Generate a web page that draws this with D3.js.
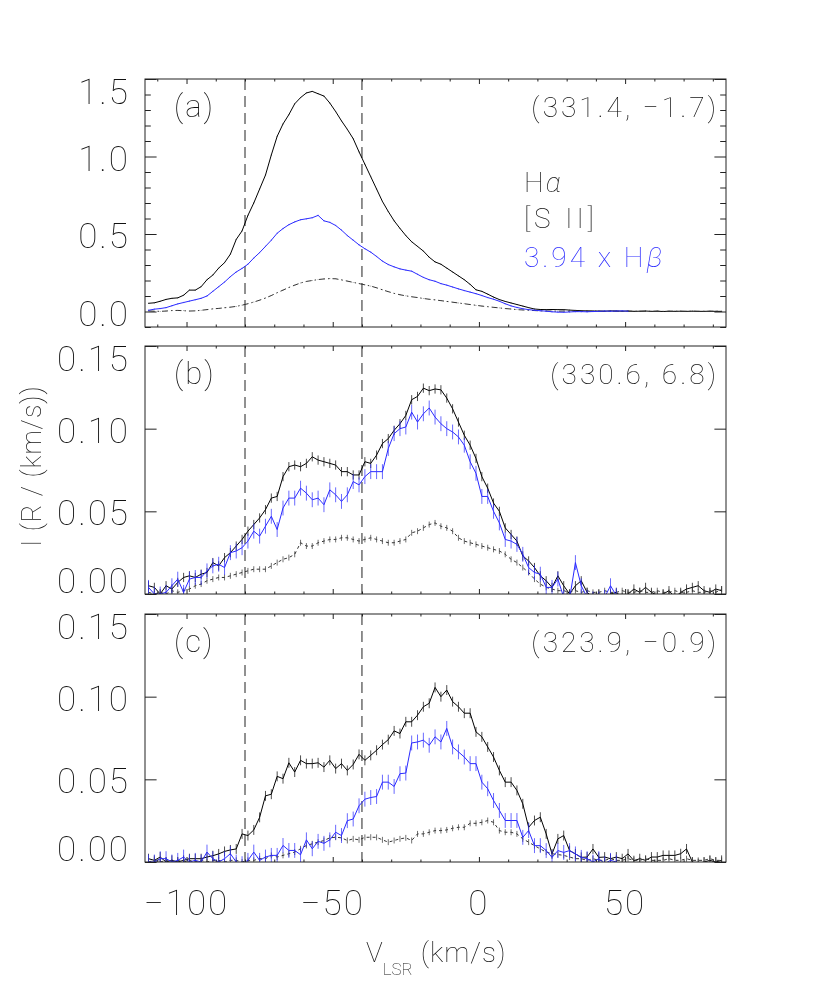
<!DOCTYPE html>
<html>
<head>
<meta charset="utf-8">
<script src="https://cdn.jsdelivr.net/npm/d3@7/dist/d3.min.js"></script>
<style>
  body { margin: 0; background: #fff; }
  svg { will-change: transform; }
  text { font-family: Roboto, 'DejaVu Sans', sans-serif; font-weight: 100; }
</style>
</head>
<body>
<div id="chart"></div>
<script>
// velocity grid (km/s), shared by all spectra
const velocity = [
  -113, -111, -109, -107, -105, -103, -101, -99, -97, -95,
  -93, -91, -89, -87, -85, -83, -81, -79, -77, -75,
  -73, -71, -69, -67, -65, -63, -61, -59, -57, -55,
  -53, -51, -49, -47, -45, -43, -41, -39, -37, -35,
  -33, -31, -29, -27, -25, -23, -21, -19, -17, -15,
  -13, -11, -9, -7, -5, -3, -1, 1, 3, 5,
  7, 9, 11, 13, 15, 17, 19, 21, 23, 25,
  27, 29, 31, 33, 35, 37, 39, 41, 43, 45,
  47, 49, 51, 53, 55, 57, 59, 61, 63, 65,
  67, 69, 71, 73, 75, 77, 79, 81, 83
];

// (a) l,b = (331.4, -1.7)
const haA = [
  0.053, 0.056, 0.066, 0.078, 0.085, 0.088, 0.105, 0.138, 0.138, 0.160,
  0.205, 0.235, 0.280, 0.315, 0.370, 0.465, 0.520, 0.620, 0.700, 0.790,
  0.880, 1.010, 1.130, 1.210, 1.270, 1.340, 1.380, 1.410, 1.420, 1.405,
  1.390, 1.345, 1.290, 1.230, 1.175, 1.115, 1.030, 0.950, 0.870, 0.790,
  0.710, 0.645, 0.585, 0.536, 0.490, 0.450, 0.420, 0.390, 0.350, 0.320,
  0.305, 0.280, 0.255, 0.230, 0.205, 0.175, 0.140, 0.130, 0.112, 0.093,
  0.077, 0.065, 0.055, 0.045, 0.035, 0.025, 0.016, 0.013, 0.012, 0.013,
  0.012, 0.012, 0.009, 0.007, 0.005, 0.004, 0.003, 0.003, 0.002, 0.004,
  0.003, 0.002, 0.003, 0.001, 0.002, 0.003, 0.001, 0.002, 0.000, 0.002,
  0.001, 0.002, 0.001, 0.002, 0.001, 0.001, 0.002, 0.001, 0.001
];
const s2A = [
  0.004, 0.002, 0.001, 0.003, 0.006, 0.007, 0.005, 0.003, 0.004, 0.008,
  0.012, 0.017, 0.020, 0.024, 0.028, 0.033, 0.041, 0.050, 0.061, 0.073,
  0.087, 0.103, 0.121, 0.138, 0.155, 0.170, 0.184, 0.194, 0.200, 0.206,
  0.210, 0.212, 0.211, 0.204, 0.196, 0.188, 0.180, 0.172, 0.164, 0.153,
  0.140, 0.128, 0.117, 0.108, 0.101, 0.095, 0.090, 0.084, 0.079, 0.075,
  0.070, 0.065, 0.060, 0.055, 0.050, 0.045, 0.040, 0.035, 0.031, 0.027,
  0.023, 0.019, 0.016, 0.012, 0.010, 0.008, 0.006, 0.004, 0.003, 0.003,
  0.002, 0.003, 0.002, 0.003, 0.002, 0.002, 0.003, 0.002, 0.001, 0.002,
  0.002, 0.001, 0.002, 0.002, 0.001, 0.002, 0.001, 0.002, 0.001, 0.001,
  0.002, 0.001, 0.001, 0.002, 0.001, 0.001, 0.001, 0.002, 0.001
];
const hbA = [
  0.008, 0.015, 0.019, 0.025, 0.037, 0.049, 0.058, 0.067, 0.076, 0.085,
  0.100, 0.130, 0.160, 0.190, 0.225, 0.255, 0.278, 0.305, 0.345, 0.380,
  0.420, 0.460, 0.505, 0.535, 0.560, 0.578, 0.592, 0.598, 0.605, 0.620,
  0.585, 0.575, 0.555, 0.525, 0.490, 0.460, 0.430, 0.405, 0.383, 0.355,
  0.325, 0.303, 0.288, 0.275, 0.267, 0.260, 0.240, 0.220, 0.205, 0.195,
  0.180, 0.170, 0.158, 0.146, 0.135, 0.125, 0.115, 0.103, 0.090, 0.079,
  0.066, 0.050, 0.036, 0.026, 0.018, 0.012, 0.008, 0.005, 0.002, -0.002,
  -0.004, -0.005, -0.003, -0.001, -0.001, -0.002, 0.000, 0.001, 0.003, 0.002,
  0.003, 0.004, 0.002
];

// (b) l,b = (330.6, 6.8)
const haB = [
  0.005, 0.004, 0.000, 0.005, 0.003, 0.007, 0.010, 0.011, 0.010, 0.012,
  0.013, 0.019, 0.017, 0.022, 0.025, 0.029, 0.033, 0.038, 0.042, 0.046,
  0.051, 0.058, 0.059, 0.071, 0.077, 0.078, 0.077, 0.079, 0.083, 0.081,
  0.080, 0.079, 0.078, 0.074, 0.074, 0.072, 0.072, 0.080, 0.079, 0.084,
  0.091, 0.094, 0.099, 0.103, 0.108, 0.1175, 0.1195, 0.1245, 0.123, 0.124,
  0.1235, 0.1185, 0.112, 0.104, 0.096, 0.090, 0.082, 0.071, 0.064, 0.055,
  0.050, 0.040, 0.036, 0.032, 0.023, 0.020, 0.016, 0.011, 0.008, 0.004,
  0.011, 0.005, 0.000, 0.005, 0.008, 0.001, -0.002, 0.000, -0.003, 0.000,
  0.001, -0.002, 0.000, 0.003, 0.001, 0.004, 0.001, -0.001, 0.000, 0.002,
  -0.002, 0.001, 0.003, 0.004, 0.005, 0.002, 0.001, 0.003, 0.002
];
const s2B = [
  0.001, 0.000, 0.001, 0.000, 0.002, 0.001, 0.002, 0.003, 0.005, 0.006,
  0.008, 0.009, 0.010, 0.010, 0.011, 0.012, 0.013, 0.014, 0.015, 0.015,
  0.015, 0.017, 0.019, 0.021, 0.022, 0.024, 0.031, 0.029, 0.029, 0.031,
  0.032, 0.033, 0.033, 0.034, 0.034, 0.033, 0.032, 0.033, 0.034, 0.033,
  0.032, 0.031, 0.031, 0.032, 0.033, 0.037, 0.038, 0.040, 0.042, 0.043,
  0.041, 0.040, 0.038, 0.034, 0.032, 0.031, 0.030, 0.029, 0.028, 0.027,
  0.026, 0.024, 0.021, 0.019, 0.016, 0.013, 0.009, 0.006, 0.004, 0.003,
  0.002, 0.002, 0.001, 0.002, 0.001, 0.002, 0.001, 0.001, 0.002, 0.001,
  0.001, 0.002, 0.001, 0.001, 0.002, 0.001, 0.001, 0.002, 0.001, 0.001,
  0.002, 0.001, 0.001, 0.002, 0.001, 0.001, 0.002, 0.001, 0.003
];
const hbB = [
  0.004, 0.000, 0.000, 0.001, 0.005, 0.009, 0.001, 0.009, 0.010, 0.010,
  0.014, 0.017, 0.018, 0.016, 0.025, 0.026, 0.028, 0.032, 0.038, 0.035,
  0.041, 0.047, 0.039, 0.052, 0.058, 0.058, 0.064, 0.061, 0.057, 0.058,
  0.054, 0.063, 0.060, 0.056, 0.060, 0.068, 0.066, 0.071, 0.074, 0.074,
  0.074, 0.088, 0.097, 0.100, 0.101, 0.110, 0.104, 0.109, 0.1125, 0.107,
  0.103, 0.100, 0.098, 0.095, 0.090, 0.080, 0.073, 0.059, 0.059, 0.050,
  0.043, 0.033, 0.032, 0.030, 0.024, 0.016, 0.013, 0.012, 0.004, 0.004,
  0.009, -0.002, -0.003, 0.019, 0.005, -0.002, -0.003, -0.003, -0.002, 0.005,
  -0.001
];

// (c) l,b = (323.9, -0.9)
const haC = [
  0.002, 0.001, 0.003, 0.000, 0.001, 0.000, 0.001, 0.002, 0.002, 0.002,
  0.003, 0.0038, 0.0049, 0.0064, 0.0073, 0.0079, 0.017, 0.016, 0.0194, 0.027,
  0.040, 0.041, 0.0518, 0.0504, 0.060, 0.0544, 0.0615, 0.0595, 0.0595, 0.060,
  0.0574, 0.0615, 0.0565, 0.0595, 0.0554, 0.059, 0.0651, 0.0615, 0.0645, 0.0676,
  0.071, 0.074, 0.0793, 0.0777, 0.0848, 0.0848, 0.0888, 0.0939, 0.096, 0.1056,
  0.100, 0.104, 0.097, 0.0939, 0.090, 0.090, 0.0787, 0.0757, 0.0696, 0.0635,
  0.0554, 0.0483, 0.0483, 0.0433, 0.0352, 0.021, 0.0251, 0.0271, 0.017, 0.0049,
  0.014, 0.016, 0.0069, 0.0049, 0.0028, 0.003, 0.0079, 0.0028, 0.003, 0.002,
  0.003, 0.002, 0.0049, 0.0008, 0.002, 0.001, 0.003, 0.003, 0.004, 0.004,
  0.004, 0.005, 0.0079, 0.000, -0.001, 0.000, 0.001, 0.000, 0.001
];
const s2C = [
  0.000, 0.001, 0.000, 0.001, 0.000, 0.001, 0.000, 0.001, 0.000, 0.001,
  0.000, 0.001, 0.001, 0.000, 0.001, 0.001, 0.000, 0.001, 0.001, 0.002,
  0.002, 0.004, 0.003, 0.004, 0.005, 0.006, 0.008, 0.010, 0.011, 0.012,
  0.013, 0.0146, 0.015, 0.0146, 0.013, 0.014, 0.0134, 0.0149, 0.015, 0.0149,
  0.0134, 0.012, 0.013, 0.014, 0.0146, 0.013, 0.017, 0.017, 0.018, 0.019,
  0.019, 0.0194, 0.0204, 0.021, 0.021, 0.0234, 0.0234, 0.024, 0.0251, 0.024,
  0.019, 0.018, 0.018, 0.017, 0.014, 0.012, 0.0099, 0.0079, 0.006, 0.005,
  0.0045, 0.004, 0.003, 0.002, 0.002, 0.001, 0.002, 0.001, 0.001, 0.002,
  0.001, 0.001, 0.002, 0.001, 0.001, 0.002, 0.001, 0.001, 0.001, 0.002,
  0.001, 0.001, 0.002, 0.001, 0.001, 0.001, 0.002, 0.001, 0.001
];
const hbC = [
  0.000, 0.000, 0.002, 0.002, 0.000, 0.001, 0.003, 0.000, 0.001, 0.000,
  0.006, 0.002, 0.000, 0.002, 0.005, 0.000, -0.001, 0.001, 0.006, 0.001,
  0.003, 0.004, 0.004, 0.010, 0.007, 0.007, 0.0044, 0.0134, 0.008, 0.0125,
  0.0113, 0.0134, 0.018, 0.016, 0.025, 0.026, 0.034, 0.038, 0.039, 0.0396,
  0.0483, 0.0483, 0.0457, 0.0534, 0.0538, 0.072, 0.0726, 0.0737, 0.0706, 0.0757,
  0.0726, 0.0808, 0.0696, 0.0666, 0.0635, 0.0595, 0.0595, 0.0483, 0.0443, 0.0372,
  0.0312, 0.0251, 0.0251, 0.0251, 0.0149, 0.019, 0.0099, 0.0099, 0.0069, 0.0028,
  0.0069, 0.0058, 0.0069, 0.0049, 0.0028, 0.002, 0.000, 0.002, -0.001, 0.001,
  0.000
];

// one error per series and panel (a, b, c)
const haErr = [0.003, 0.0028, 0.003];
const s2Err = [0.002, 0.0018, 0.0018];
const hbErr = [0.004, 0.0045, 0.0045];

const panelNames = ['(a)', '(b)', '(c)'];
const panelCoords = ['(331.4, \u22121.7)', '(330.6, 6.8)', '(323.9, \u22120.9)'];
const yDomains = [[-0.1, 1.5], [0, 0.15], [0, 0.15]];
const yMajorTicks = [[0, 0.5, 1.0, 1.5], [0, 0.05, 0.10, 0.15], [0, 0.05, 0.10, 0.15]];
const yTickLabels = [['0.0', '0.5', '1.0', '1.5'], ['0.00', '0.05', '0.10', '0.15'], ['0.00', '0.05', '0.10', '0.15']];
const yMinorTicksA = [-0.1, 0.1, 0.2, 0.3, 0.4, 0.6, 0.7, 0.8, 0.9, 1.1, 1.2, 1.3, 1.4];
const xMajorTicks = [-100, -50, 0, 50];
const xTickLabels = ['\u2212100', '\u221250', '0', '50'];
const xMinorTicks = [-110, -90, -80, -70, -60, -40, -30, -20, -10, 10, 20, 30, 40, 60, 70, 80];
const markerVelocities = [-80, -40];

let svgWidth = 830, svgHeight = 997,
  frameLeft = 145, frameRight = 726,
  frameHeight = 248,
  frameTops = [79, 346, 614],
  xTickLen = 5, yTickLen = 11.6,
  blue = '#2a2aff', ink = '#222', textInk = '#111';

const panels = [
  { ha: haA, s2: s2A, hb: hbA },
  { ha: haB, s2: s2B, hb: hbB },
  { ha: haC, s2: s2C, hb: hbC }
];

const svg = d3.select('#chart')
  .append('svg')
  .attr('width', svgWidth)
  .attr('height', svgHeight);

const x = d3.scaleLinear().domain([-114.2, 84.5]).range([frameLeft, frameRight]);

panels.forEach((p, i) => {
  const top = frameTops[i], bottom = top + frameHeight;
  const y = d3.scaleLinear().domain(yDomains[i]).range([bottom, top]);
  const g = svg.append('g');

  svg.append('clipPath')
    .attr('id', 'clip' + i)
    .append('rect')
    .attr('x', frameLeft)
    .attr('y', top)
    .attr('width', frameRight - frameLeft)
    .attr('height', frameHeight);

  // dashed velocity markers
  g.selectAll('.marker')
    .data(markerVelocities)
    .enter()
    .append('line')
    .attr('x1', d => x(d))
    .attr('x2', d => x(d))
    .attr('y1', top)
    .attr('y2', bottom)
    .attr('stroke', ink)
    .attr('stroke-width', 1)
    .attr('stroke-dasharray', '11,6');

  const plot = g.append('g').attr('clip-path', `url(#clip${i})`);

  const series = [
    { values: p.ha, err: haErr[i], color: '#000', dash: null },
    { values: p.s2, err: s2Err[i], color: '#333', dash: i === 0 ? '6,3,1.5,3' : '3,3' },
    { values: p.hb, err: hbErr[i], color: blue, dash: null }
  ];

  series.forEach(s => {
    const pts = s.values.map((v, k) => ({ v: velocity[k], f: v }));

    plot.append('path')
      .datum(pts)
      .attr('fill', 'none')
      .attr('stroke', s.color)
      .attr('stroke-width', 1)
      .attr('stroke-dasharray', s.dash)
      .attr('d', d3.line().x(d => x(d.v)).y(d => y(d.f)));

    // error bars
    plot.selectAll(null)
      .data(pts)
      .enter()
      .append('line')
      .attr('x1', d => x(d.v))
      .attr('x2', d => x(d.v))
      .attr('y1', d => y(d.f - s.err))
      .attr('y2', d => y(d.f + s.err))
      .attr('stroke', s.color)
      .attr('stroke-opacity', 0.7)
      .attr('stroke-width', 1);
  });

  // ticks on all four sides, pointing inward
  const xAxes = [
    [d3.axisBottom, bottom], [d3.axisTop, top]
  ];
  xAxes.forEach(([axis, pos]) => {
    g.append('g')
      .attr('transform', `translate(0,${pos})`)
      .call(axis(x).tickValues(xMajorTicks).tickSize(-xTickLen).tickFormat(''))
      .call(a => a.select('.domain').remove());
    g.append('g')
      .attr('transform', `translate(0,${pos})`)
      .call(axis(x).tickValues(xMinorTicks).tickSize(-xTickLen / 2).tickFormat(''))
      .call(a => a.select('.domain').remove());
  });
  const yAxes = [
    [d3.axisLeft, frameLeft], [d3.axisRight, frameRight]
  ];
  yAxes.forEach(([axis, pos]) => {
    g.append('g')
      .attr('transform', `translate(${pos},0)`)
      .call(axis(y).tickValues(yMajorTicks[i]).tickSize(-yTickLen).tickFormat(''))
      .call(a => a.select('.domain').remove());
    if (i === 0) {
      g.append('g')
        .attr('transform', `translate(${pos},0)`)
        .call(axis(y).tickValues(yMinorTicksA).tickSize(-yTickLen / 2).tickFormat(''))
        .call(a => a.select('.domain').remove());
    }
  });
  g.selectAll('.tick line').attr('stroke', ink);

  // frame
  g.append('rect')
    .attr('x', frameLeft)
    .attr('y', top)
    .attr('width', frameRight - frameLeft)
    .attr('height', frameHeight)
    .attr('fill', 'none')
    .attr('stroke', ink)
    .attr('stroke-width', 1);

  // y tick labels; the end labels are pulled inside the frame
  g.selectAll('.y-label')
    .data(yMajorTicks[i])
    .enter()
    .append('text')
    .attr('x', 130)
    .attr('y', d => {
      if (d === yDomains[i][1]) return top + 25;
      if (d === yDomains[i][0]) return bottom - 1;
      return y(d) + 14;
    })
    .attr('text-anchor', 'end')
    .attr('font-size', 35)
    .attr('letter-spacing', 2)
    .attr('fill', textInk)
    .text((d, k) => yTickLabels[i][k]);

  // panel letter and position
  g.append('text')
    .attr('x', 174)
    .attr('y', top + 38)
    .attr('font-size', 31)
    .attr('letter-spacing', 2)
    .attr('fill', textInk)
    .text(panelNames[i]);

  g.append('text')
    .attr('x', 719)
    .attr('y', top + 38)
    .attr('text-anchor', 'end')
    .attr('font-size', 28)
    .attr('letter-spacing', 3)
    .attr('fill', textInk)
    .text(panelCoords[i]);

  // x tick labels on the bottom panel only
  if (i === panels.length - 1) {
    g.selectAll('.x-label')
      .data(xMajorTicks)
      .enter()
      .append('text')
      .attr('x', d => x(d))
      .attr('y', 915)
      .attr('text-anchor', 'middle')
      .attr('font-size', 35)
      .attr('letter-spacing', 2)
      .attr('fill', textInk)
      .text((d, k) => xTickLabels[k]);
  }
});

// legend in panel (a)
const legend = svg.append('g').attr('font-size', 28).attr('fill', textInk);
const ha = legend.append('text').attr('x', 524).attr('y', 192).attr('letter-spacing', 2);
ha.append('tspan').text('H');
ha.append('tspan').attr('font-style', 'italic').text('\u03b1');
legend.append('text').attr('x', 524).attr('y', 228).attr('letter-spacing', 4).text('[S II]');
const hb = legend.append('text').attr('x', 524).attr('y', 267).attr('fill', blue).attr('letter-spacing', 3);
hb.append('tspan').text('3.94 x H');
hb.append('tspan').attr('font-style', 'italic').text('\u03b2');

// y axis title
svg.append('text')
  .attr('transform', 'translate(41,466) rotate(-90)')
  .attr('text-anchor', 'middle')
  .attr('font-size', 27)
  .attr('letter-spacing', 1)
  .attr('fill', textInk)
  .text('I (R / (km/s))');

// x axis title
const xt = svg.append('text').attr('x', 366).attr('y', 962).attr('font-size', 28).attr('fill', textInk);
xt.append('tspan').text('V');
xt.append('tspan').attr('font-size', 17).attr('dy', 13).text('LSR');
xt.append('tspan').attr('dy', -13).attr('dx', 8).attr('letter-spacing', 1).text('(km/s)');
</script>
</body>
</html>
